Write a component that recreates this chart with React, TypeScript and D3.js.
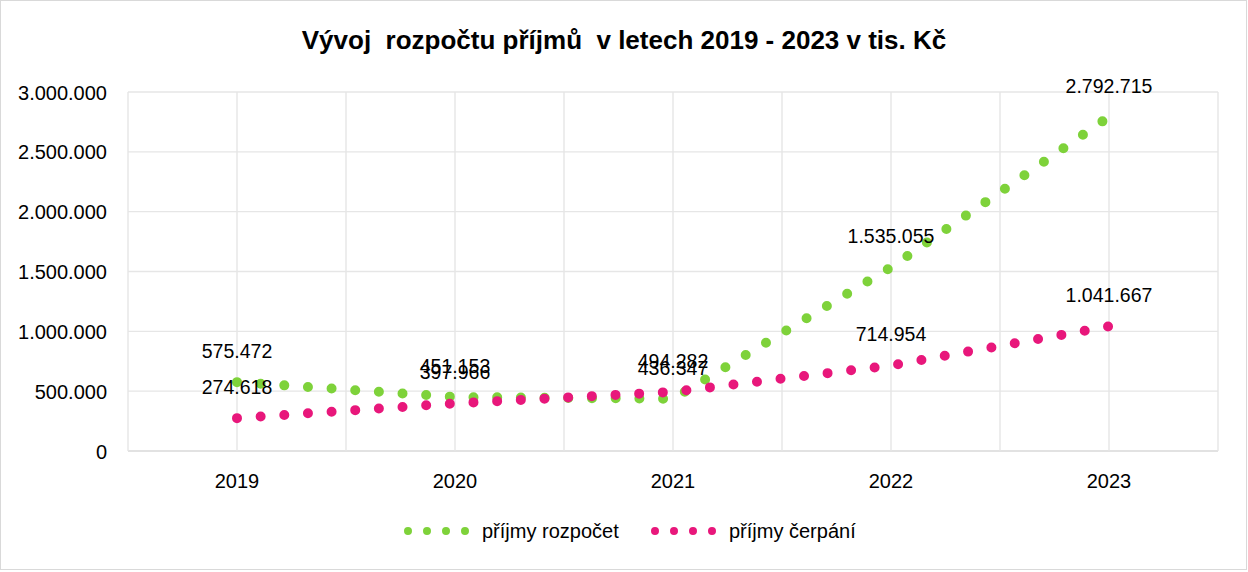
import React from "react";
import * as d3 from "d3";

// roky a hodnoty v tis. Kč
const years = [2019, 2020, 2021, 2022, 2023];
const rozpocet = [575472, 451153, 436347, 1535055, 2792715];
const cerpani = [274618, 397966, 494282, 714954, 1041667];
const yTicks = [0, 500000, 1000000, 1500000, 2000000, 2500000, 3000000];

const series = [
  { name: "příjmy rozpočet", values: rozpocet, color: "#7ED23A" },
  { name: "příjmy čerpání", values: cerpani, color: "#E8177B" },
];

const W = 1248;
const H = 572;
const FONT = "'Liberation Sans', Arial, sans-serif";

const cz = d3.formatLocale({ decimal: ",", thousands: ".", grouping: [3], currency: ["", " Kč"] });
const fmt = cz.format(",.0f");

const App = () => {
  const x = d3.scaleLinear().domain([2018.5, 2023.5]).range([128, 1218]);
  const y = d3.scaleLinear().domain([0, 3000000]).range([451, 92]);

  // vertical grid every half year
  const xGrid = d3.range(2018.5, 2023.51, 0.5);

  const line = d3
    .line<number>()
    .x((d, i) => x(years[i]))
    .y((d) => y(d));

  const legendX = [408, 655];

  return (
    <svg
      width={W}
      height={H}
      style={{ position: "absolute", left: 0, top: 0, background: "#fff" }}
      fontFamily={FONT}
    >
      <rect x={0.5} y={0.5} width={W - 2} height={H - 3} fill="#fff" stroke="#d9d9d9" />

      <text
        x={624}
        y={49}
        textAnchor="middle"
        fontSize={26}
        fontWeight="bold"
        fill="#000"
        style={{ whiteSpace: "pre" }}
      >
        {"Vývoj  rozpočtu příjmů  v letech 2019 - 2023 v tis. Kč"}
      </text>

      {/* grid */}
      {yTicks.map((t) => (
        <line key={"gy" + t} x1={128} x2={1218} y1={y(t)} y2={y(t)} stroke={t === 0 ? "#d9d9d9" : "#e6e6e6"} strokeWidth={1.4} />
      ))}
      {xGrid.map((g) => (
        <line key={"gx" + g} x1={x(g)} x2={x(g)} y1={92} y2={451} stroke="#e6e6e6" strokeWidth={1.4} />
      ))}

      {/* y axis labels */}
      {yTicks.map((t) => (
        <text key={"ty" + t} x={107} y={y(t) + 7.5} textAnchor="end" fontSize={20} fill="#000">
          {fmt(t)}
        </text>
      ))}

      {/* x axis labels */}
      {years.map((yr) => (
        <text key={"tx" + yr} x={x(yr)} y={488} textAnchor="middle" fontSize={20} fill="#000">
          {yr}
        </text>
      ))}

      {/* series */}
      {series.map((s) => (
        <path
          key={s.name}
          d={line(s.values) || ""}
          fill="none"
          stroke={s.color}
          strokeWidth={10}
          strokeLinecap="round"
          strokeLinejoin="round"
          strokeDasharray="0 23.7"
        />
      ))}

      {/* data labels */}
      {series.map((s) =>
        s.values.map((v, i) => (
          <text
            key={s.name + i}
            x={x(years[i])}
            y={y(v) - 24}
            textAnchor="middle"
            fontSize={19.5}
            fill="#000"
          >
            {fmt(v)}
          </text>
        ))
      )}

      {/* legend */}
      {series.map((s, i) => (
        <g key={"lg" + s.name}>
          <line
            x1={legendX[i]}
            x2={legendX[i] + 57.5}
            y1={531}
            y2={531}
            stroke={s.color}
            strokeWidth={8}
            strokeLinecap="round"
            strokeDasharray="0 19"
          />
          <text x={legendX[i] + 74} y={538} fontSize={20} fill="#000">
            {s.name}
          </text>
        </g>
      ))}
    </svg>
  );
};

export default App;
